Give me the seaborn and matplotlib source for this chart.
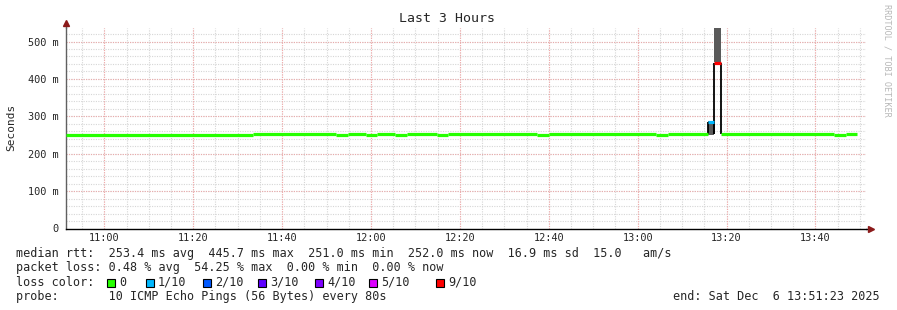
import matplotlib
matplotlib.use("Agg")
import matplotlib.pyplot as plt
import numpy as np
import pandas as pd
import seaborn as sns

# ---------------- data ----------------
window_start = "10:51:23"
window_minutes = 180.0
title = "Last 3 Hours"

# median rtt segments (minutes since window start)
seg_start_min = [0.0, 42.1, 60.8, 63.5, 67.5, 70.0, 74.0, 76.7, 83.5, 86.0,
                 106.0, 108.7, 132.8, 135.5, 144.5, 145.8, 147.3, 172.8, 175.5]
seg_end_min = [42.1, 60.8, 63.5, 67.5, 70.0, 74.0, 76.7, 83.5, 86.0, 106.0,
               108.7, 132.8, 135.5, 144.5, 145.8, 147.3, 172.8, 175.5, 178.0]
median_ms = [250.0, 252.5, 250.0, 252.5, 250.0, 252.5, 250.0, 252.5, 250.0, 252.5,
             250.0, 252.5, 250.0, 252.5, 284.0, 443.0, 252.5, 250.0, 252.5]
loss_tenths = [0, 0, 0, 0, 0, 0, 0, 0, 0, 0, 0, 0, 0, 0, 1, 9, 0, 0, 0]

# smoke (ping spread) where visible
smoke_start_min = [144.5, 145.8]
smoke_end_min = [145.8, 147.3]
smoke_lo_ms = [248.8, 444.0]
smoke_hi_ms = [286.3, 535.0]

loss_labels = ["0", "1/10", "2/10", "3/10", "4/10", "5/10", "9/10"]
loss_keys = [0, 1, 2, 3, 4, 5, 9]
loss_colors = ["#26ff00", "#00b8ff", "#0059ff", "#5e00ff", "#7e00ff", "#dd00ff", "#ff0000"]

xtick_labels = ["11:00", "11:20", "11:40", "12:00", "12:20", "12:40", "13:00", "13:20", "13:40"]
ytick_values = [0, 100, 200, 300, 400, 500]
ytick_labels = ["0", "100 m", "200 m", "300 m", "400 m", "500 m"]

legend_lines = [
    "median rtt:  253.4 ms avg  445.7 ms max  251.0 ms min  252.0 ms now  16.9 ms sd  15.0   am/s",
    "packet loss: 0.48 % avg  54.25 % max  0.00 % min  0.00 % now",
    "loss color:",
    "probe:       10 ICMP Echo Pings (56 Bytes) every 80s",
]
end_text = "end: Sat Dec  6 13:51:23 2025"
watermark = "RRDTOOL / TOBI OETIKER"

# ---------------- helpers ----------------
def clock_to_min(s):
    parts = [int(p) for p in s.split(":")]
    while len(parts) < 3:
        parts.append(0)
    return parts[0] * 60 + parts[1] + parts[2] / 60.0

t0 = clock_to_min(window_start)
MONO = "DejaVu Sans Mono"

sns.set_theme(style="white")
plt.rcParams["font.family"] = [MONO, "DejaVu Sans"]

W, H = 897, 310
fig = plt.figure(figsize=(W / 100, H / 100), dpi=100)
fig.patch.set_facecolor("white")

ax_l, ax_r, ax_b, ax_t = 66, 866, 228.5, 27.5
ax = fig.add_axes([ax_l / W, 1 - ax_b / H, (ax_r - ax_l) / W, (ax_b - ax_t) / H])
ax.set_facecolor("white")
ymax = (ax_b - ax_t) / 0.374
ax.set_xlim(0, window_minutes)
ax.set_ylim(0, ymax)

# grid (dotted)
gkw = dict(lw=0.8, ls=(0, (1, 1.2)))
minor_x = np.arange(np.ceil((t0) / 5) * 5, t0 + window_minutes, 5) - t0
major_x = [clock_to_min(l) - t0 for l in xtick_labels]
for x in minor_x:
    ax.axvline(x, color="#d6d6d6", zorder=0, **gkw)
for y in np.arange(20, ymax, 20):
    ax.axhline(y, color="#d6d6d6", zorder=0, **gkw)
for x in major_x:
    ax.axvline(x, color="#f4a8a8", zorder=0.5, **gkw)
for y in ytick_values[1:]:
    ax.axhline(y, color="#eaaaaa", zorder=0.5, **gkw)

# smoke
ax.bar(smoke_start_min, np.array(smoke_hi_ms) - np.array(smoke_lo_ms),
       bottom=smoke_lo_ms, width=np.array(smoke_end_min) - np.array(smoke_start_min),
       align="edge", color="#5a5a5a", linewidth=0, zorder=2)

# black outlines of the spike
spike_idx = [i for i, l in enumerate(loss_tenths) if l > 0]
base_ms = median_ms[spike_idx[0] - 1]
for i in spike_idx:
    ax.vlines([seg_start_min[i], seg_end_min[i]], base_ms, median_ms[i],
              color="black", lw=1.3, zorder=3)

# median lines colored by loss
rows = []
for i, (s, e, m, l) in enumerate(zip(seg_start_min, seg_end_min, median_ms, loss_tenths)):
    rows.append({"t": s, "ms": m, "seg": i, "loss": l})
    rows.append({"t": e, "ms": m, "seg": i, "loss": l})
df = pd.DataFrame(rows)
palette = {k: c for k, c in zip(loss_keys, loss_colors)}
sns.lineplot(data=df, x="t", y="ms", hue="loss", units="seg", estimator=None,
             palette={k: palette[k] for k in sorted(df["loss"].unique())},
             linewidth=2.3, legend=False, sort=False, ax=ax, zorder=4,
             solid_capstyle="butt")

# axes styling
for s in ["top", "right"]:
    ax.spines[s].set_visible(False)
ax.spines["left"].set_color("#606060")
ax.spines["left"].set_linewidth(1.0)
ax.spines["bottom"].set_color("black")
ax.spines["bottom"].set_linewidth(1.0)
ax.set_xticks(major_x)
ax.set_xticklabels(xtick_labels, fontsize=7.4, family=MONO)
ax.set_yticks(ytick_values)
ax.set_yticklabels(ytick_labels, fontsize=7.4, family=MONO)
ax.tick_params(axis="both", which="major", length=3, width=0.8, color="#606060",
               direction="inout", pad=3)
ax.tick_params(axis="y", pad=4)
ax.tick_params(axis="x", pad=1.5)
ax.set_xlabel("")
ax.set_ylabel("")

# axis extensions with arrows
fig.add_artist(plt.Line2D([ax_l / W, ax_l / W], [1 - ax_t / H, 1 - 23 / H],
                          color="#606060", lw=1.0))
fig.add_artist(plt.Line2D([ax_r / W, 870 / W], [1 - ax_b / H, 1 - ax_b / H],
                          color="black", lw=1.0))
fig.add_artist(plt.Line2D([ax_l / W], [1 - 23 / H], marker="^", markersize=4,
                          color="#8b1a1a", lw=0))
fig.add_artist(plt.Line2D([871 / W], [1 - ax_b / H], marker=">", markersize=4,
                          color="#8b1a1a", lw=0))

# title, ylabel, watermark
fig.text(447 / W, 1 - 19 / H, title, ha="center", va="center", fontsize=9.5, family=MONO)
fig.text(11 / W, 1 - 127 / H, "Seconds", rotation=90, ha="center", va="center",
         fontsize=8, family=MONO)
fig.text(887 / W, 1 - 60 / H, watermark, rotation=270, ha="center", va="center",
         fontsize=6.1, family=MONO, color="#b8b8b8")

# legend text
FS = 8.47
leg_y = [253, 267.5, 282, 296.5]
for txt, y in zip(legend_lines, leg_y):
    fig.text(16 / W, 1 - y / H, txt, ha="left", va="center", fontsize=FS, family=MONO)
fig.text(880 / W, 1 - 296.5 / H, end_text, ha="right", va="center", fontsize=FS, family=MONO)

# loss color boxes
box_x = [107, 146, 203, 258, 315, 369, 436]
for bx, lab, col in zip(box_x, loss_labels, loss_colors):
    fig.add_artist(plt.Rectangle((bx / W, 1 - 286.5 / H), 8 / W, 8 / H,
                                 facecolor=col, edgecolor="black", lw=0.8))
    fig.text((bx + 12) / W, 1 - 282 / H, lab, ha="left", va="center",
             fontsize=FS, family=MONO)

fig.savefig("out.png", dpi=100, facecolor="white")
